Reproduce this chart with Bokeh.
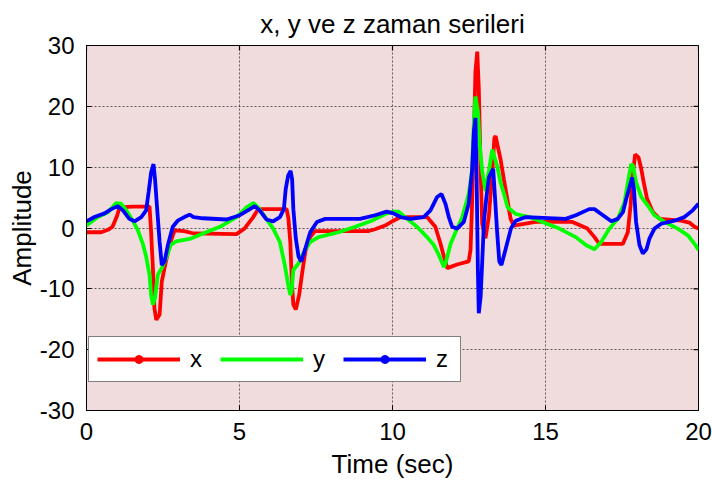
import math
from bokeh.plotting import figure
from bokeh.models import Legend, LegendItem, FixedTicker
from bokeh.embed import file_html
from bokeh.resources import INLINE

# ---- data ----
tx = [0, 0.48, 0.7, 0.85, 1.0, 1.08, 1.5, 2.06, 2.11, 2.17, 2.22, 2.28, 2.39, 2.46, 2.55, 2.71, 2.88, 3.2, 3.5,
      4.9, 5.16, 5.45, 5.61, 6.54, 6.6, 6.66, 6.71, 6.76, 6.84, 6.95, 7.04, 7.15, 7.31, 7.47, 9.22, 9.43, 9.76,
      10.03, 10.26, 11.13, 11.4, 11.57, 11.68, 11.79, 12.11, 12.49, 12.55, 12.6, 12.66, 12.71, 12.77, 12.82,
      12.88, 12.93, 13.04, 13.15, 13.26, 13.33, 13.37, 13.53, 13.64, 13.75, 13.86, 13.96, 14.68, 15.88, 16.37,
      16.6, 16.76, 17.53, 17.69, 17.78, 17.86, 17.93, 18.04, 18.13, 18.21, 18.32, 18.51, 18.73, 19.43, 19.7,
      19.87, 20]
x = [-0.7, -0.7, -0.3, 0.2, 2.0, 3.4, 3.5, 3.5, -0.5, -6.6, -13.2, -15.1, -14.2, -8.8, -6.6, -2.8, -0.4, -0.5, -0.9,
     -1.0, -0.1, 1.8, 3.1, 3.1, 1.5, -2.3, -8.8, -12.6, -13.4, -11, -7.7, -3.9, -1.5, -0.5, -0.5, -0.2, 0.4,
     1.2, 1.8, 1.8, 0.2, -2.6, -4.7, -6.6, -6.0, -5.5, -3.6, 4.0, 14.8, 25.7, 29, 23,
     9.5, 0.7, -1.7, 2.0, 9.1, 14.8, 15.1, 11.3, 8.0, 4.8, 1.5, 0.4, 1.0, 1.0, -0.1,
     -1.5, -2.6, -2.6, -0.7, 3.7, 9.1, 12.1, 11.6, 9.7, 7.5, 4.8, 2.6, 1.5, 1.2, 0.9,
     0.2, -0.1]

ty = [0, 0.37, 0.7, 0.97, 1.13, 1.3, 1.51, 1.68, 1.84, 1.95, 2.06, 2.11, 2.17, 2.24, 2.33, 2.46, 2.6, 2.75, 2.93,
      3.37, 3.81, 4.36, 4.9, 5.23, 5.45, 5.61, 5.88, 6.1, 6.32, 6.48, 6.59, 6.66, 6.7, 6.76, 6.93, 7.1, 7.31,
      7.58, 8.24, 8.78, 9.32, 9.76, 10.03, 10.2, 10.48, 10.8, 11.13, 11.35, 11.51, 11.68, 11.75, 11.9, 12.06,
      12.28, 12.49, 12.6, 12.66, 12.71, 12.79, 12.85, 12.93, 13.04, 13.15, 13.26, 13.42, 13.53, 13.65, 13.76,
      14.03, 14.47, 14.9, 15.45, 15.99, 16.32, 16.6, 16.82, 17.09, 17.36, 17.58, 17.69, 17.8, 17.86, 17.96,
      18.13, 18.34, 18.56, 18.89, 19.32, 19.65, 19.87, 20]
y = [0.4, 1.8, 2.6, 4.1, 4.0, 2.9, 1.2, -0.4, -2.6, -4.7, -7.7, -11, -12.6, -11.5, -7.7, -6.6, -5.0, -2.8, -2.2,
     -1.8, -0.9, 0.2, 1.8, 3.4, 4.1, 3.4, 1.5, -0.1, -2.3, -6.1, -9.3, -11, -10.5, -6.9, -5.8, -4.0, -2.3,
     -1.5, -0.7, 0.2, 1.2, 2.3, 2.7, 2.7, 1.5, 0.2, -1.5, -2.8, -4.4, -6.4, -5.5, -2.6, -0.7,
     1.8, 5.6, 9.4, 17.6, 21.6, 19.2, 13.8, 9.4, 6.1, 9.4, 12.9, 10.2, 7.5, 5.5, 3.4,
     2.3, 1.8, 1.0, -0.1, -1.5, -2.8, -3.5, -2.3, -0.1, 1.5, 4.2, 7.5, 10.5, 10.2, 7.5,
     5.1, 3.7, 2.1, 1.0, -0.1, -1.2, -2.6, -3.6]

tz = [0, 0.26, 0.59, 0.81, 1.02, 1.19, 1.4, 1.57, 1.79, 1.95, 2.03, 2.11, 2.19, 2.24, 2.31, 2.39, 2.46, 2.55, 2.66,
      2.82, 2.98, 3.2, 3.37, 3.5, 3.81, 4.58, 5.01, 5.34, 5.5, 5.66, 5.88, 6.1, 6.32, 6.45, 6.51, 6.59, 6.67,
      6.72, 6.76, 6.84, 6.93, 7.02, 7.15, 7.31, 7.53, 7.8, 8.94, 9.43, 9.81, 10.03, 10.26, 10.59, 11.02, 11.24,
      11.46, 11.6, 11.73, 11.84, 11.95, 12.11, 12.33, 12.49, 12.6, 12.66, 12.71, 12.75, 12.79, 12.82, 12.88,
      12.93, 12.99, 13.07, 13.15, 13.22, 13.29, 13.36, 13.42, 13.49, 13.56, 13.7, 13.87, 14.03, 14.36, 15.66,
      15.99, 16.43, 16.6, 16.82, 17.15, 17.36, 17.53, 17.64, 17.76, 17.83, 17.89, 17.96, 18.07, 18.18, 18.3,
      18.4, 18.56, 18.78, 19.22, 19.54, 19.81, 20]
z = [1.1, 1.8, 2.4, 3.1, 3.6, 2.9, 1.5, 1.1, 1.8, 2.9, 5.9, 9.1, 10.5, 8.0, 3.1, -2.3, -6.1, -5.5, -2.8,
     0.2, 1.2, 1.8, 2.2, 1.8, 1.6, 1.4, 2.1, 3.1, 3.6, 2.9, 1.4, 1.1, 1.8, 3.1, 6.4, 8.6, 9.4,
     8.0, 3.1, -1.7, -4.7, -5.5, -3.4, -0.7, 1.0, 1.5, 1.5, 2.1, 2.7, 2.4, 1.8, 1.5, 1.8, 2.9,
     5.1, 5.6, 4.0, 1.8, 0.2, -0.1, 1.0, 4.0, 9.4, 15.9, 18.1, 8.0, -6.9, -14.0, -11.3,
     -5.8, 1.2, 5.1, 8.3, 9.1, 9.7, 4.2, -0.7, -5.5, -6.1, -3.4, -0.1, 1.2, 1.8, 1.5,
     2.1, 3.1, 3.1, 2.3, 1.1, 1.5, 2.6, 4.8, 7.0, 8.3, 6.4, 1.0, -2.8, -4.2, -3.5,
     -1.7, -0.1, 0.7, 1.2, 1.8, 2.9, 4.0]

x_ticks = [0, 5, 10, 15, 20]
y_ticks = [-30, -20, -10, 0, 10, 20, 30]
series_labels = ["x", "y", "z"]

FONT = "Liberation Sans"
x_lo, x_hi = x_ticks[0], x_ticks[-1]
y_lo, y_hi = y_ticks[0], y_ticks[-1]

p = figure(width=712, height=488, x_range=(x_lo, x_hi), y_range=(y_lo, y_hi),
           output_backend="svg", toolbar_location=None,
           min_border_left=86, min_border_right=14, min_border_top=42, min_border_bottom=78,
           background_fill_color="#F0DCDD", border_fill_color="white")

p.title.text = "x, y ve z zaman serileri"
p.title.text_font = FONT
p.title.text_font_size = "26px"
p.title.text_font_style = "normal"
p.title.align = "center"
p.title.text_color = "black"
p.title.standoff = 13

p.outline_line_color = "black"
p.outline_line_width = 1

for ax in (p.xaxis[0], p.yaxis[0]):
    ax.major_label_text_font = FONT
    ax.major_label_text_font_size = "24px"
    ax.major_label_text_color = "black"
    ax.axis_label_text_font = FONT
    ax.axis_label_text_font_size = "26px"
    ax.axis_label_text_font_style = "normal"
    ax.axis_label_text_color = "black"
    ax.major_tick_in = 5
    ax.major_tick_out = 0
    ax.minor_tick_in = 0
    ax.minor_tick_out = 0
    ax.axis_line_color = "black"
    ax.major_tick_line_color = "black"

p.xaxis[0].ticker = FixedTicker(ticks=x_ticks)
p.yaxis[0].ticker = FixedTicker(ticks=y_ticks)
p.xaxis[0].major_label_overrides = {t: str(t) for t in x_ticks}
p.yaxis[0].major_label_overrides = {t: str(t) for t in y_ticks}
p.xaxis[0].major_label_standoff = 12
p.yaxis[0].major_label_standoff = 12
p.xaxis[0].axis_label = "Time (sec)"
p.yaxis[0].axis_label = "Amplitude"
p.xaxis[0].axis_label_standoff = 6
p.yaxis[0].axis_label_standoff = 0

p.xgrid.ticker = FixedTicker(ticks=x_ticks)
p.ygrid.ticker = FixedTicker(ticks=y_ticks)
p.grid.grid_line_color = "#3a3a3a"
p.grid.grid_line_dash = "2 2"
p.grid.grid_line_alpha = 0.8
p.grid.grid_line_width = 1

# inward tick marks on the top and right edges of the box
p.scatter(x=x_ticks, y=[y_hi] * len(x_ticks), marker="dash", angle=math.pi / 2,
          size=10, line_color="black", line_width=1.2)
p.scatter(x=[x_hi] * len(y_ticks), y=y_ticks, marker="dash",
          size=10, line_color="black", line_width=1.2)

lw = 3.8
rx = p.line(tx, x, line_color="#FF0000", line_width=lw)
ry = p.line(ty, y, line_color="#00FF00", line_width=lw)
rz = p.line(tz, z, line_color="#0000FF", line_width=lw)
nan = float("nan")
mx = p.scatter(x=[nan], y=[nan], marker="circle", size=10, color="#FF0000")
mz = p.scatter(x=[nan], y=[nan], marker="circle", size=10, color="#0000FF")

legend = Legend(items=[LegendItem(label=series_labels[0], renderers=[rx, mx]),
                       LegendItem(label=series_labels[1], renderers=[ry]),
                       LegendItem(label=series_labels[2], renderers=[rz, mz])],
                orientation="horizontal", location=(2, 28),
                label_text_font=FONT, label_text_font_size="24px", label_text_color="black",
                glyph_width=83, glyph_height=20, label_standoff=10, label_width=16, spacing=14,
                padding=8, margin=0,
                border_line_color="black", border_line_width=1,
                background_fill_color="white", background_fill_alpha=1.0)
p.add_layout(legend, "center")

open("out.html", "w").write(file_html(p, INLINE))
